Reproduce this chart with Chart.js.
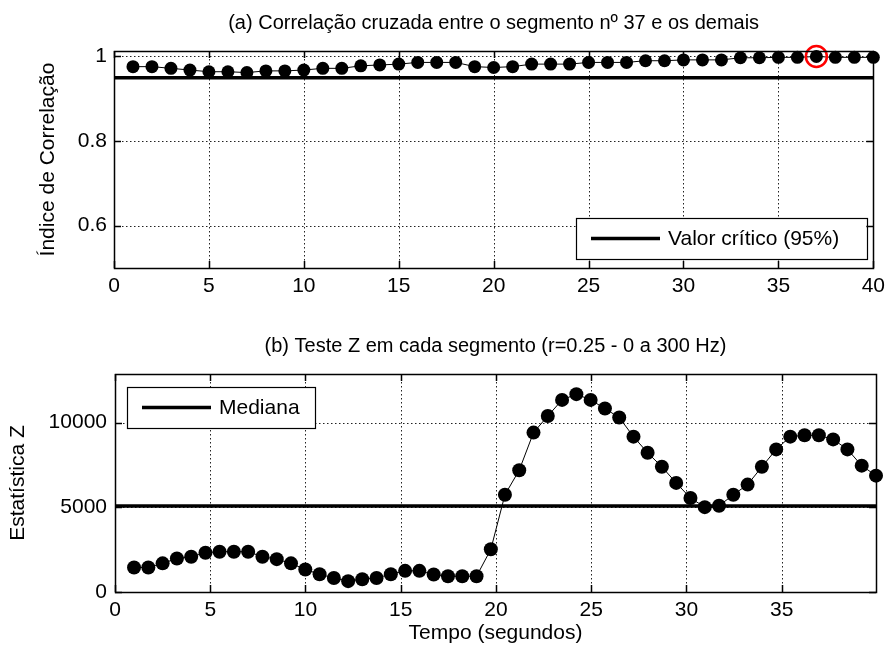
<!DOCTYPE html>
<html lang="pt">
<head>
<meta charset="UTF-8">
<title>Correlação cruzada e Teste Z</title>
<script src="https://cdn.jsdelivr.net/npm/chart.js"></script>
<style>
  body { margin: 0; background: #fff; }
  #wrap { position: relative; width: 891px; height: 653px; }
  canvas { position: absolute; left: 0; }
</style>
</head>
<body>
<div id="wrap">
  <canvas id="chartA" width="891" height="320" style="top:0"></canvas>
  <canvas id="chartB" width="891" height="333" style="top:320px"></canvas>
</div>
<script>
// (a) correlation of segment 37 with the others
const segA = [1, 2, 3, 4, 5, 6, 7, 8, 9, 10, 11, 12, 13, 14, 15, 16, 17, 18, 19, 20,
              21, 22, 23, 24, 25, 26, 27, 28, 29, 30, 31, 32, 33, 34, 35, 36, 37, 38, 39, 40];
const corrA = [0.976, 0.976, 0.972, 0.968, 0.964, 0.964, 0.962, 0.966, 0.966, 0.968,
               0.972, 0.972, 0.978, 0.980, 0.982, 0.986, 0.986, 0.986, 0.976, 0.974,
               0.976, 0.982, 0.982, 0.982, 0.986, 0.986, 0.986, 0.990, 0.990, 0.992,
               0.992, 0.992, 0.997, 0.997, 0.998, 0.998, 1.000, 0.998, 0.998, 0.998];
const critA = 0.95;
const highlightSeg = 37;
const xTicksA = [0, 5, 10, 15, 20, 25, 30, 35, 40];
const yTicksA = [0.6, 0.8, 1];
const yLabelsA = ['0.6', '0.8', '1'];

// (b) Z test per segment
const timeB = [1.00, 1.75, 2.50, 3.25, 4.00, 4.75, 5.49, 6.24, 6.99, 7.74,
               8.49, 9.24, 9.99, 10.74, 11.49, 12.24, 12.98, 13.73, 14.48, 15.23,
               15.98, 16.73, 17.48, 18.23, 18.98, 19.73, 20.47, 21.22, 21.97, 22.72,
               23.47, 24.22, 24.97, 25.72, 26.47, 27.22, 27.96, 28.71, 29.46, 30.21,
               30.96, 31.71, 32.46, 33.21, 33.96, 34.71, 35.45, 36.20, 36.95, 37.70,
               38.45, 39.20, 39.95];
const zB = [1450, 1450, 1690, 1980, 2080, 2320, 2380, 2380, 2380, 2080,
            1940, 1690, 1330, 1050, 830, 640, 750, 830, 1050, 1250,
            1250, 1030, 930, 930, 930, 2520, 5740, 7190, 9410, 10390,
            11340, 11680, 11340, 10830, 10300, 9170, 8220, 7390, 6440, 5550,
            5010, 5090, 5740, 6340, 7390, 8420, 9170, 9250, 9250, 9010,
            8420, 7460, 6870];
const medianB = 5070;
const xTicksB = [0, 5, 10, 15, 20, 25, 30, 35];
const yTicksB = [0, 5000, 10000];

Chart.defaults.font.family = "'Liberation Sans', Arial, sans-serif";
Chart.defaults.font.size = 21;
Chart.defaults.color = '#000';

// dotted grid, box and inward ticks like the original figure
const framePlugin = {
  id: 'frame',
  beforeDatasetsDraw(chart) {
    const {ctx, chartArea: a, scales: {x, y}} = chart;
    ctx.save();
    ctx.strokeStyle = '#222';
    ctx.lineWidth = 1;
    ctx.setLineDash([1.5, 2.5]);
    ctx.beginPath();
    x.ticks.forEach(t => {
      const px = Math.round(x.getPixelForValue(t.value)) + 0.5;
      ctx.moveTo(px, a.top); ctx.lineTo(px, a.bottom);
    });
    y.ticks.forEach(t => {
      const py = Math.round(y.getPixelForValue(t.value)) + 0.5;
      ctx.moveTo(a.left, py); ctx.lineTo(a.right, py);
    });
    ctx.stroke();
    ctx.restore();
  },
  afterDraw(chart) {
    const {ctx, chartArea: a, scales: {x, y}} = chart;
    const tl = 7;
    ctx.save();
    ctx.strokeStyle = '#000';
    ctx.lineWidth = 1.5;
    ctx.beginPath();
    x.ticks.forEach(t => {
      const px = Math.round(x.getPixelForValue(t.value)) + 0.5;
      ctx.moveTo(px, a.bottom); ctx.lineTo(px, a.bottom - tl);
      ctx.moveTo(px, a.top); ctx.lineTo(px, a.top + tl);
    });
    y.ticks.forEach(t => {
      const py = Math.round(y.getPixelForValue(t.value)) + 0.5;
      ctx.moveTo(a.left, py); ctx.lineTo(a.left + tl, py);
      ctx.moveTo(a.right, py); ctx.lineTo(a.right - tl, py);
    });
    ctx.stroke();
    ctx.lineWidth = 1.5;
    ctx.strokeRect(Math.round(a.left) + 0.5, Math.round(a.top) + 0.5,
                   Math.round(a.right - a.left), Math.round(a.bottom - a.top));
    ctx.restore();
  }
};

// boxed legend inside the axes
const boxLegend = {
  id: 'boxLegend',
  afterDatasetsDraw(chart, args, o) {
    const ctx = chart.ctx;
    ctx.save();
    ctx.fillStyle = '#fff';
    ctx.fillRect(o.x, o.y, o.w, o.h);
    ctx.strokeStyle = '#000';
    ctx.lineWidth = 1.2;
    ctx.strokeRect(o.x + 0.5, o.y + 0.5, o.w, o.h);
    const cy = o.y + o.h / 2;
    ctx.lineWidth = 3.5;
    ctx.beginPath();
    ctx.moveTo(o.x + 15, cy); ctx.lineTo(o.x + 84, cy);
    ctx.stroke();
    ctx.fillStyle = '#000';
    ctx.font = "21px 'Liberation Sans', Arial, sans-serif";
    ctx.textBaseline = 'middle';
    ctx.fillText(o.text, o.x + 92, cy + 1);
    ctx.restore();
  }
};

function fixWidth(w) { return s => { s.width = w; }; }
function fixHeight(h) { return s => { s.height = h; }; }

// ---- chart (a)
const critLineA = [{x: 0, y: critA}, {x: 40, y: critA}];
new Chart(document.getElementById('chartA'), {
  type: 'scatter',
  data: {
    datasets: [{
      data: [{x: highlightSeg, y: corrA[segA.indexOf(highlightSeg)]}],
      pointRadius: 10.5,
      pointBorderWidth: 2.5,
      pointBorderColor: '#ff0000',
      pointBackgroundColor: 'rgba(0,0,0,0)',
      showLine: false,
      clip: false
    }, {
      data: segA.map((s, i) => ({x: s, y: corrA[i]})),
      showLine: true,
      borderColor: '#000',
      borderWidth: 1,
      pointRadius: 6.5,
      pointBackgroundColor: '#000',
      pointBorderColor: '#000',
      pointBorderWidth: 0,
      clip: false
    }, {
      data: critLineA,
      showLine: true,
      borderColor: '#000',
      borderWidth: 3.5,
      pointRadius: 0
    }]
  },
  options: {
    responsive: false,
    animation: false,
    events: [],
    layout: {padding: {left: 0, right: 14, top: 0, bottom: 0}},
    plugins: {
      legend: {display: false},
      tooltip: {enabled: false},
      title: {
        display: true,
        text: '(a) Correlação cruzada entre o segmento nº 37 e os demais',
        fullSize: false,
        font: {size: 20, weight: 'normal'},
        color: '#000',
        padding: {top: 11, bottom: 16}
      },
      boxLegend: {x: 576, y: 218, w: 291, h: 41, text: 'Valor crítico (95%)'}
    },
    scales: {
      x: {
        type: 'linear', min: 0, max: 40,
        afterFit: fixHeight(52),
        afterBuildTicks: s => { s.ticks = xTicksA.map(v => ({value: v})); },
        grid: {display: false, drawTicks: false},
        border: {display: false},
        ticks: {padding: 6, maxRotation: 0, autoSkip: false, callback: v => String(v)}
      },
      y: {
        type: 'linear', min: 0.5, max: 1.013,
        afterFit: fixWidth(114),
        afterBuildTicks: s => { s.ticks = yTicksA.map(v => ({value: v})); },
        grid: {display: false, drawTicks: false},
        border: {display: false},
        ticks: {padding: 7, autoSkip: false,
                callback: (v, i) => yLabelsA[i]},
        title: {display: true, text: 'Índice de Correlação', padding: {top: 36, bottom: 0}}
      }
    }
  },
  plugins: [framePlugin, boxLegend]
});

// ---- chart (b)
const medianLineB = [{x: 0, y: medianB}, {x: timeB[timeB.length - 1], y: medianB}];
new Chart(document.getElementById('chartB'), {
  type: 'scatter',
  data: {
    datasets: [{
      data: medianLineB,
      showLine: true,
      borderColor: '#000',
      borderWidth: 3.5,
      pointRadius: 0
    }, {
      data: timeB.map((t, i) => ({x: t, y: zB[i]})),
      showLine: true,
      borderColor: '#000',
      borderWidth: 1,
      pointRadius: 7,
      pointBackgroundColor: '#000',
      pointBorderColor: '#000',
      pointBorderWidth: 0,
      clip: false
    }]
  },
  options: {
    responsive: false,
    animation: false,
    events: [],
    layout: {padding: {left: 0, right: 15, top: 0, bottom: 0}},
    plugins: {
      legend: {display: false},
      tooltip: {enabled: false},
      title: {
        display: true,
        text: '(b) Teste Z em cada segmento (r=0.25 - 0 a 300 Hz)',
        fullSize: false,
        font: {size: 20, weight: 'normal'},
        color: '#000',
        padding: {top: 14, bottom: 16}
      },
      boxLegend: {x: 127, y: 67, w: 188, h: 41, text: 'Mediana'}
    },
    scales: {
      x: {
        type: 'linear', min: 0, max: timeB[timeB.length - 1],
        afterFit: fixHeight(61),
        afterBuildTicks: s => { s.ticks = xTicksB.map(v => ({value: v})); },
        grid: {display: false, drawTicks: false},
        border: {display: false},
        ticks: {padding: 6, maxRotation: 0, autoSkip: false, callback: v => String(v)},
        title: {display: true, text: 'Tempo (segundos)', padding: {top: 0, bottom: 7}}
      },
      y: {
        type: 'linear', min: 0, max: 12870,
        afterFit: fixWidth(115),
        afterBuildTicks: s => { s.ticks = yTicksB.map(v => ({value: v})); },
        grid: {display: false, drawTicks: false},
        border: {display: false},
        ticks: {padding: 8, autoSkip: false, callback: v => String(v)},
        title: {display: true, text: 'Estatística Z', padding: {top: 6, bottom: 0}}
      }
    }
  },
  plugins: [framePlugin, boxLegend]
});
</script>
</body>
</html>
